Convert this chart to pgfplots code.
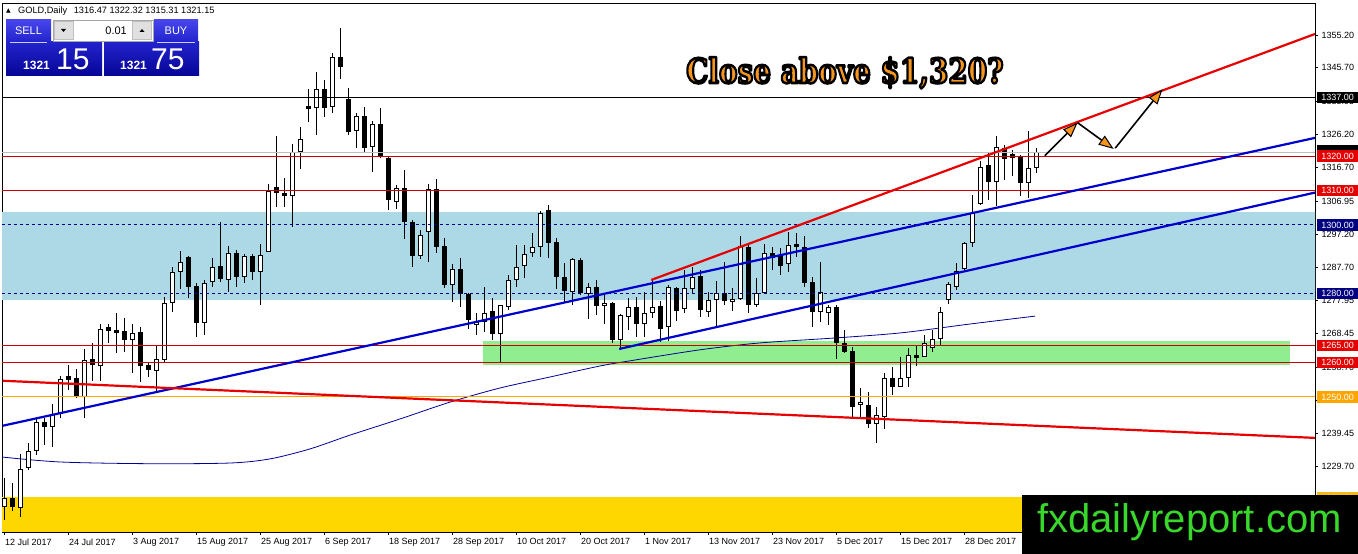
\documentclass[border=0pt]{standalone}
\usepackage{fontspec}
\setmainfont{Liberation Sans}
\newfontfamily\titlefont{DejaVu Serif}
\newfontfamily\symfont{DejaVu Sans}
\usepackage{graphicx}
\usepackage{pgfplots}
\usepackage{pgfplotstable}
\pgfplotsset{compat=1.18}
\usetikzlibrary{arrows.meta}

\definecolor{bandblue}{RGB}{173,216,230}
\definecolor{bandgreen}{RGB}{144,238,144}
\definecolor{bandgold}{RGB}{255,215,0}
\definecolor{hred}{RGB}{205,0,0}
\definecolor{tred}{RGB}{230,0,0}
\definecolor{tblue}{RGB}{0,0,205}
\definecolor{maline}{RGB}{0,0,150}
\definecolor{navylab}{RGB}{0,0,128}
\definecolor{lineorange}{RGB}{255,165,0}
\definecolor{arrowfill}{RGB}{247,148,30}
\definecolor{titleorange}{RGB}{247,150,30}
\definecolor{btop}{RGB}{70,70,235}
\definecolor{bmid}{RGB}{35,35,205}
\definecolor{bbot}{RGB}{5,5,150}
\definecolor{sitegreen}{RGB}{57,214,44}
\definecolor{bidgray}{RGB}{190,190,190}
\definecolor{lowlab}{RGB}{245,185,20}

% daily OHLC, bar index from 12 Jul 2017
\pgfplotstableread{
i o h l c
0 1217.9 1226.4 1214.2 1220.5
1 1220.5 1224.9 1216.9 1217.9
2 1217.6 1233.4 1215.2 1229.0
3 1229.3 1236.5 1228.8 1234.4
4 1234.4 1243.8 1233.1 1242.6
5 1242.6 1243.8 1236.0 1241.4
6 1241.4 1248.0 1235.5 1245.0
7 1245.0 1256.1 1243.8 1255.1
8 1255.7 1259.3 1252.0 1255.3
9 1255.5 1258.0 1249.6 1250.1
10 1250.1 1263.9 1244.0 1260.7
11 1261.0 1265.6 1254.7 1259.3
12 1259.1 1271.2 1254.7 1269.7
13 1270.3 1271.2 1265.8 1269.3
14 1269.5 1274.3 1262.9 1268.7
15 1269.1 1272.9 1263.2 1266.6
16 1266.6 1271.2 1257.1 1268.5
17 1268.9 1270.3 1254.4 1259.0
18 1259.2 1259.8 1255.7 1257.8
19 1257.6 1265.1 1251.8 1261.0
20 1260.7 1279.0 1260.3 1277.2
21 1277.4 1287.9 1274.8 1286.4
22 1286.4 1292.4 1281.3 1289.1
23 1290.6 1291.0 1278.7 1282.1
24 1282.3 1283.0 1267.5 1271.4
25 1271.6 1284.0 1268.0 1283.0
26 1283.5 1290.3 1282.1 1287.9
27 1288.2 1301.0 1283.5 1284.2
28 1284.0 1293.9 1280.6 1291.8
29 1291.8 1292.7 1282.1 1285.0
30 1285.0 1291.5 1283.0 1291.0
31 1291.0 1291.5 1284.0 1286.4
32 1286.4 1294.4 1276.7 1291.3
33 1292.1 1311.9 1292.1 1310.0
34 1311.1 1325.9 1305.1 1309.2
35 1309.3 1313.6 1305.1 1308.5
36 1308.5 1323.5 1299.5 1321.1
37 1321.3 1328.6 1316.3 1325.0
38 1334.6 1339.4 1330.0 1333.8
39 1333.9 1344.4 1326.0 1339.4
40 1339.4 1342.1 1331.5 1333.9
41 1334.2 1349.9 1332.5 1348.7
42 1348.7 1357.2 1342.3 1346.0
43 1336.6 1339.7 1326.2 1327.1
44 1327.4 1332.5 1322.5 1331.7
45 1331.7 1334.4 1320.8 1322.3
46 1322.6 1330.2 1315.5 1329.3
47 1329.3 1333.9 1319.4 1319.7
48 1319.4 1319.8 1304.4 1307.1
49 1306.8 1311.6 1304.6 1310.7
50 1310.7 1316.0 1295.8 1300.8
51 1300.8 1301.4 1287.9 1291.1
52 1291.0 1298.5 1290.0 1297.1
53 1297.9 1311.9 1289.3 1310.4
54 1310.4 1313.3 1291.8 1293.7
55 1293.9 1296.1 1281.6 1282.6
56 1282.6 1288.7 1277.7 1287.1
57 1287.1 1290.3 1276.1 1279.9
58 1279.9 1280.2 1269.7 1272.4
59 1270.9 1274.5 1268.0 1271.9
60 1271.9 1282.1 1269.0 1274.5
61 1275.0 1278.9 1266.6 1268.3
62 1268.2 1276.6 1260.3 1276.6
63 1276.1 1285.5 1275.3 1284.0
64 1284.0 1294.2 1282.1 1287.7
65 1288.1 1294.2 1284.5 1291.5
66 1291.8 1297.6 1290.8 1293.5
67 1293.5 1303.9 1290.8 1303.4
68 1304.4 1305.8 1290.3 1294.8
69 1295.1 1296.1 1281.3 1285.0
70 1284.8 1288.9 1277.7 1280.9
71 1280.6 1290.3 1276.7 1290.0
72 1289.8 1290.3 1279.6 1280.3
73 1279.9 1283.0 1272.6 1282.1
74 1282.1 1284.0 1273.8 1276.4
75 1276.6 1280.1 1271.1 1277.2
76 1277.2 1277.6 1265.8 1266.6
77 1266.6 1274.0 1264.2 1273.8
78 1273.2 1278.7 1269.5 1276.1
79 1276.1 1279.1 1267.5 1271.2
80 1271.1 1280.6 1267.5 1274.5
81 1274.5 1284.2 1272.9 1276.1
82 1276.4 1278.0 1266.1 1269.8
83 1270.3 1282.6 1266.4 1281.9
84 1281.7 1282.1 1272.2 1275.1
85 1275.5 1286.9 1274.5 1281.6
86 1281.3 1287.9 1279.9 1284.8
87 1285.2 1286.9 1273.3 1275.3
88 1274.8 1280.6 1273.3 1278.2
89 1278.2 1283.8 1270.3 1280.3
90 1280.3 1289.3 1276.7 1278.0
91 1277.8 1281.6 1275.1 1278.4
92 1278.5 1296.8 1278.2 1293.9
93 1293.5 1294.5 1274.5 1276.7
94 1276.7 1284.5 1276.2 1280.3
95 1280.3 1294.5 1280.1 1291.8
96 1291.8 1293.5 1286.9 1290.3
97 1291.0 1293.2 1285.5 1288.1
98 1288.6 1298.0 1286.4 1294.2
99 1294.2 1297.6 1290.6 1293.7
100 1293.5 1296.8 1282.1 1283.2
101 1283.5 1285.0 1270.3 1274.8
102 1274.8 1289.3 1271.9 1280.6
103 1274.5 1276.7 1270.9 1276.1
104 1276.1 1276.7 1261.0 1265.8
105 1265.8 1269.5 1262.7 1263.1
106 1263.4 1264.4 1244.3 1247.2
107 1247.6 1252.5 1244.3 1248.6
108 1247.7 1251.5 1240.9 1242.1
109 1242.1 1247.2 1236.7 1244.8
110 1244.3 1257.1 1240.6 1255.4
111 1255.4 1258.8 1250.6 1253.0
112 1253.0 1261.7 1252.8 1255.4
113 1255.4 1264.1 1252.8 1262.2
114 1262.2 1265.1 1259.0 1261.5
115 1261.5 1268.0 1261.5 1265.6
116 1264.1 1269.5 1263.2 1266.8
117 1266.8 1276.1 1265.1 1274.8
118 1278.2 1283.5 1277.0 1282.8
119 1282.1 1288.9 1281.1 1286.7
120 1287.1 1295.1 1286.7 1294.8
121 1294.8 1308.7 1293.7 1303.4
122 1306.1 1318.7 1305.8 1316.9
123 1317.4 1321.1 1307.3 1312.6
124 1312.6 1325.7 1305.5 1322.6
125 1322.3 1323.2 1313.1 1319.1
126 1320.3 1321.8 1314.2 1319.8
127 1320.1 1320.3 1308.4 1312.3
128 1312.3 1327.4 1307.8 1316.5
129 1316.5 1322.3 1315.2 1321.2
}\gold

% title: filled orange, stroked black (text render mode 2)
\newcommand\titletext{\titlefont\bfseries\fontsize{34}{34}\selectfont\scalebox{0.82}[1]{\special{pdf:literal direct 2 Tr 2.6 w 1 j 0 0 0 RG}Close above \$1,320?\special{pdf:literal direct 0 Tr}}}

\begin{document}
\begin{tikzpicture}[x=1pt,y=1pt]
\useasboundingbox (0,0) rectangle (1358,554);
\begin{axis}[
    at={(2pt,22pt)}, anchor=south west,
    scale only axis, width=1313pt, height=529pt,
    xmin=-0.25, xmax=163.875,
    ymin=1210.75, ymax=1364.5,
    axis line style={black, line width=0.8pt},
    tick align=outside, major tick length=3pt,
    tick style={black, line width=0.6pt},
    xtick pos=left, ytick pos=right, yticklabel pos=right,
    xtick={0,8,...,120},
    xticklabels={12 Jul 2017,24 Jul 2017,3 Aug 2017,15 Aug 2017,25 Aug 2017,6 Sep 2017,18 Sep 2017,28 Sep 2017,10 Oct 2017,20 Oct 2017,1 Nov 2017,13 Nov 2017,23 Nov 2017,5 Dec 2017,15 Dec 2017,28 Dec 2017},
    xticklabel style={anchor=north west, xshift=-2.5pt, font=\fontsize{9}{10}\selectfont},
    ytick={1219.95,1229.70,1239.45,1248.95,1258.70,1268.45,1277.95,1287.70,1297.20,1306.95,1316.70,1326.20,1335.95,1345.70,1355.20},
    yticklabel style={anchor=west, font=\fontsize{9}{10}\selectfont,
        /pgf/number format/.cd, fixed, fixed zerofill, precision=2, 1000 sep={}, assume math mode=true},
]

% zones
\addplot[fill=bandblue, draw=none] coordinates {(-1,1278.2) (170,1278.2) (170,1303.7) (-1,1303.7)} -- cycle;
\addplot[fill=bandgreen, draw=none] coordinates {(59.9,1259.3) (160.75,1259.3) (160.75,1266.3) (59.9,1266.3)} -- cycle;
\addplot[fill=bandgold, draw=none] coordinates {(-1,1200) (170,1200) (170,1220.9) (-1,1220.9)} -- cycle;

% moving average
\addplot[maline, line width=0.8pt, smooth, tension=0.5] coordinates {
(-0.5,1232.6) (7,1231.1) (18.25,1230.6) (28.25,1230.8) (33.25,1232.0) (38.25,1234.9)
(43.25,1238.9) (49.5,1243.6) (55.75,1248.5) (62,1252.6) (68.25,1255.8) (74.5,1259.0)
(78.25,1260.5) (87,1263.7) (94.5,1265.7) (103.6,1267.1) (112,1268.6) (120.75,1271.2) (128.9,1273.5)};

% wicks
\addplot[draw=none, mark=none,
    error bars/.cd, y dir=both, y explicit, error mark=none,
    error bar style={draw=black, line width=1pt}]
    table[x=i, y expr={(\thisrow{h}+\thisrow{l})/2}, y error expr={(\thisrow{h}-\thisrow{l})/2}] {\gold};
% bearish bodies
\addplot[draw=none, mark=none,
    restrict expr to domain={\thisrow{o}-\thisrow{c}}{0.0001:1000},
    error bars/.cd, y dir=both, y explicit, error mark=none,
    error bar style={draw=black, line width=5pt}]
    table[x=i, y expr={(\thisrow{o}+\thisrow{c})/2}, y error expr={max(abs(\thisrow{o}-\thisrow{c})/2,0.45)}] {\gold};
% bullish bodies: outline then white
\addplot[draw=none, mark=none,
    restrict expr to domain={\thisrow{c}-\thisrow{o}}{0:1000},
    error bars/.cd, y dir=both, y explicit, error mark=none,
    error bar style={draw=black, line width=5pt}]
    table[x=i, y expr={(\thisrow{o}+\thisrow{c})/2}, y error expr={max(abs(\thisrow{o}-\thisrow{c})/2,0.45)}] {\gold};
\addplot[draw=none, mark=none,
    restrict expr to domain={\thisrow{c}-\thisrow{o}}{0:1000},
    error bars/.cd, y dir=both, y explicit, error mark=none,
    error bar style={draw=white, line width=3pt}]
    table[x=i, y expr={(\thisrow{o}+\thisrow{c})/2}, y error expr={max(abs(\thisrow{o}-\thisrow{c})/2-0.29,0)}] {\gold};

% horizontal levels
\addplot[black, line width=1pt] coordinates {(-1,1337) (170,1337)};
\addplot[bidgray, line width=1pt] coordinates {(-1,1321.15) (170,1321.15)};
\addplot[hred, line width=1pt] coordinates {(-1,1320) (170,1320)};
\addplot[hred, line width=1pt] coordinates {(-1,1310) (170,1310)};
\addplot[navylab, line width=0.9pt, dash pattern=on 3pt off 3pt] coordinates {(-1,1300) (170,1300)};
\addplot[navylab, line width=0.9pt, dash pattern=on 3pt off 3pt] coordinates {(-1,1280) (170,1280)};
\addplot[hred, line width=1pt] coordinates {(-1,1265) (170,1265)};
\addplot[hred, line width=1pt] coordinates {(-1,1260) (170,1260)};
\addplot[lineorange, line width=1pt] coordinates {(-1,1250) (170,1250)};

% trend lines
\addplot[tblue, line width=2.2pt] coordinates {(-0.125,1241.65) (163.875,1325.3)};
\addplot[tblue, line width=2.2pt] coordinates {(76.9,1263.95) (163.875,1309.4)};
\addplot[tred, line width=2.2pt] coordinates {(80.9,1284.0) (163.875,1355.5)};
\addplot[tred, line width=2.2pt] coordinates {(-0.125,1254.7) (163.875,1238.1)};

% projected path
\addplot[black, line width=1.6pt, -{Triangle[length=15pt,width=11pt,fill=arrowfill,line width=1pt]}] coordinates {(130.1,1320.1) (134.2,1329.7)};
\addplot[black, line width=1.6pt, -{Triangle[length=15pt,width=11pt,fill=arrowfill,line width=1pt]}] coordinates {(134.2,1329.7) (138.7,1322.1)};
\addplot[black, line width=1.6pt, -{Triangle[length=15pt,width=11pt,fill=arrowfill,line width=1pt]}] coordinates {(138.9,1322.3) (144.8,1339.4)};

\coordinate (L1337) at (axis cs:163.875,1337);
\coordinate (Lbid) at (axis cs:163.875,1321.6);
\coordinate (L1320) at (axis cs:163.875,1320);
\coordinate (L1310) at (axis cs:163.875,1310);
\coordinate (L1300) at (axis cs:163.875,1300);
\coordinate (L1280) at (axis cs:163.875,1280);
\coordinate (L1265) at (axis cs:163.875,1265);
\coordinate (L1260) at (axis cs:163.875,1260);
\coordinate (L1250) at (axis cs:163.875,1250);
\coordinate (L1220) at (axis cs:163.875,1220.6);
\end{axis}

% price labels on the scale
\tikzset{plab/.style={anchor=west, xshift=1.5pt, minimum width=42pt, minimum height=11.5pt, inner sep=0pt, text=white, font=\fontsize{9}{10}\selectfont}}
\fill[black] ([xshift=1.5pt,yshift=-5.75pt]Lbid) rectangle ++(42,11.5);
\node[plab, fill=black] at (L1337) {1337.00};
\node[plab, fill=red!90!black] at (L1320) {1320.00};
\node[plab, fill=red!90!black] at (L1310) {1310.00};
\node[plab, fill=navylab] at (L1300) {1300.00};
\node[plab, fill=navylab] at (L1280) {1280.00};
\node[plab, fill=red!90!black] at (L1265) {1265.00};
\node[plab, fill=red!90!black] at (L1260) {1260.00};
\node[plab, fill=lineorange] at (L1250) {1250.00};
\node[plab, fill=lowlab] at (L1220) {1220.60};

% title
\node[anchor=base west, inner sep=0pt, text=titleorange] at (686,471) {\titletext};

% site box
\fill[black] (1021.7,0) rectangle (1358,59);
\node[anchor=base west, inner sep=0pt, text=sitegreen, font=\fontsize{40}{40}\selectfont] at (1037,21) {fxdailyreport.com};

% header line
\node[anchor=base west, inner sep=0pt, font=\symfont\fontsize{6}{6}\selectfont] at (6,541) {▲};
\node[anchor=base west, inner sep=0pt, font=\fontsize{9.2}{10}\selectfont] at (18,540) {GOLD,Daily\hspace{4pt} 1316.47 1322.32 1315.31 1321.15};

% trade panel
\shade[top color=btop, bottom color=bmid] (6,512) rectangle (51,534);
\shade[top color=btop, bottom color=bmid] (154,512) rectangle (198,534);
\shade[top color=bmid, bottom color=bbot] (6,478) rectangle (102,512);
\shade[top color=bmid, bottom color=bbot] (104,478) rectangle (199,512);
\draw[white!80!blue, line width=0.8pt] (10,512) -- (47,512);
\draw[white!80!blue, line width=0.8pt] (157,512) -- (195,512);
\draw[black!35, fill=white, line width=0.6pt] (53,513) rectangle (153,534);
\draw[black!25, fill=black!12, line width=0.5pt] (54.5,514.5) rectangle (73,532.5);
\draw[black!25, fill=black!12, line width=0.5pt] (132,514.5) rectangle (151.5,532.5);
\fill[black] (61,525) -- (66,525) -- (63.5,522) -- cycle;
\fill[black] (139.5,522) -- (144.5,522) -- (142,525) -- cycle;
\node[anchor=base east, inner sep=0pt, font=\fontsize{11}{11}\selectfont] at (127,519) {0.01};
\node[text=white, inner sep=0pt, font=\fontsize{11}{11}\selectfont] at (28.5,523) {SELL};
\node[text=white, inner sep=0pt, font=\fontsize{11}{11}\selectfont] at (176,523) {BUY};
\node[anchor=base west, inner sep=0pt, text=white, font=\bfseries\fontsize{12}{12}\selectfont] at (23,484) {1321};
\node[anchor=base west, inner sep=0pt, text=white, font=\fontsize{30}{30}\selectfont] at (56,484) {15};
\node[anchor=base west, inner sep=0pt, text=white, font=\bfseries\fontsize{12}{12}\selectfont] at (120,484) {1321};
\node[anchor=base west, inner sep=0pt, text=white, font=\fontsize{30}{30}\selectfont] at (151,484) {75};
\end{tikzpicture}
\end{document}
